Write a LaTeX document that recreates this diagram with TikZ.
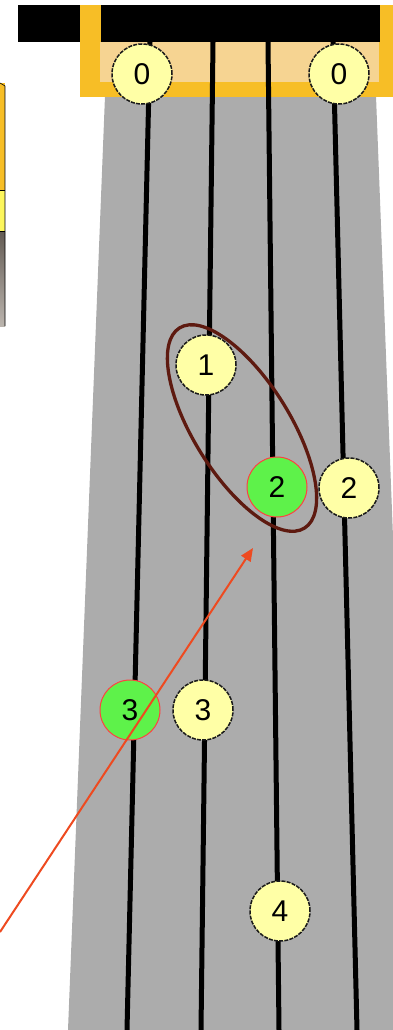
\documentclass[tikz,border=0pt]{standalone}
\usepackage{fontspec}
\setmainfont{Liberation Sans}
\usetikzlibrary{arrows.meta}
\definecolor{neck}{HTML}{ACACAC}
\definecolor{frameyel}{HTML}{F7BE26}
\definecolor{nuttan}{HTML}{F6D492}
\definecolor{lightyel}{HTML}{FCF65C}
\definecolor{photo}{HTML}{8E8378}
\definecolor{dotyel}{HTML}{FFFFA6}
\definecolor{dotgreen}{HTML}{5EF24A}
\definecolor{ellbrown}{HTML}{5E1A10}
\definecolor{arrowred}{HTML}{EE4A20}
\begin{document}
\begin{tikzpicture}[x=1pt,y=-1pt,
  notefont/.style={font=\fontsize{30}{30}\selectfont},
  yelnote/.style={circle, minimum size=60pt, inner sep=0pt, fill=dotyel,
    draw=black!90, line width=1.5pt, dash pattern=on 4pt off 1.2pt, notefont},
  grnnote/.style={circle, minimum size=60pt, inner sep=0pt, fill=dotgreen,
    draw=red!75, line width=1pt, notefont},
  gstring/.style={line width=5pt, black},
  ringline/.style={draw=ellbrown, line width=3.3pt},
  pointer/.style={draw=arrowred, line width=2pt, -{Triangle[length=13pt,width=11pt]}}]
\useasboundingbox (0,0) rectangle (393,1030);
\clip (0,0) rectangle (393,1030);
% neck
\fill[neck] (105,96) -- (376,96) -- (412,1030) -- (68,1030) -- cycle;
% nut frame
\fill[frameyel] (80,5) rectangle (393,97);
\fill[nuttan] (100,42) rectangle (379,82);
\fill[black] (18,5) rectangle (80,42);
\fill[black] (101,5) rectangle (380,42);
% partial element on the left
\fill[frameyel] (0,83) rectangle (5,190);
\fill[lightyel] (0,190) rectangle (5,231);
\shade[top color=photo!70!black, bottom color=photo!60!white] (0,231) rectangle (5,326);
\draw[black, line width=0.6pt] (0,83) -- (5,86) -- (5,326);
\draw[black, line width=0.6pt] (0,190) -- (5,190) (0,231) -- (5,231);
% strings
\coordinate (s1t) at (150,42); \coordinate (s1b) at (127,1030);
\coordinate (s2t) at (213,42); \coordinate (s2b) at (201,1030);
\coordinate (s3t) at (268,42); \coordinate (s3b) at (279,1030);
\coordinate (s4t) at (333,42); \coordinate (s4b) at (357,1030);
\draw[gstring] (s1t) -- (s1b);
\draw[gstring] (s2t) -- (s2b);
\draw[gstring] (s3t) -- (s3b);
\draw[gstring] (s4t) -- (s4b);
% notes
\node[yelnote] (n0a) at (142,74) {0};
\node[yelnote] (n0b) at (339,74) {0};
\node[yelnote] (n1) at (206,365) {1};
\node[grnnote] (n2g) at (277,487) {2};
\node[yelnote] (n2y) at (349,488) {2};
\node[grnnote] (n3g) at (130,710) {3};
\node[yelnote] (n3y) at (203,710) {3};
\node[yelnote] (n4) at (280,911) {4};
% ellipse around 1 and 2
\coordinate (ec) at (242,428);
\draw[ringline, rotate around={-58:(ec)}] (ec) ellipse [x radius=118pt, y radius=48pt];
% arrow
\coordinate (astart) at (0,932);
\coordinate (atip) at (253,548);
\draw[pointer] (astart) -- (atip);
\end{tikzpicture}
\end{document}
